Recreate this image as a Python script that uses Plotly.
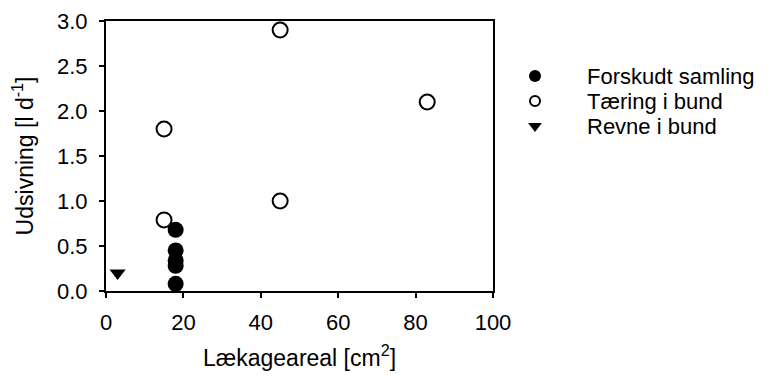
import plotly.graph_objects as go

# Leakage area [cm2] and seepage [l/d] per damage type
forskudt_x = [18, 18, 18, 18, 18]
forskudt_y = [0.68, 0.45, 0.34, 0.28, 0.08]

taering_x = [15, 15, 45, 45, 83]
taering_y = [1.8, 0.79, 2.9, 1.0, 2.1]

revne_x = [3]
revne_y = [0.2]

names = ["Forskudt samling", "Tæring i bund", "Revne i bund"]

x_ticks = [0, 20, 40, 60, 80, 100]
y_ticks = [0, 0.5, 1.0, 1.5, 2.0, 2.5, 3.0]
y_ticktext = ["0.0", "0.5", "1.0", "1.5", "2.0", "2.5", "3.0"]

FONT = "Liberation Sans, Arial, sans-serif"
FS = 22
FS_TITLE = 23

# Figure geometry (pixels)
W, H = 780, 379
PLOT_X0, PLOT_X1 = 106, 493
PLOT_Y0, PLOT_Y1 = 21, 291  # top, bottom

# Legend placement (pixels from top-left)
LEG_SYMBOL_X = 535
LEG_TEXT_X = 585
LEG_ROW0_Y = 76
LEG_ROW_STEP = 25

fig = go.Figure()

styles = [
    dict(symbol="circle", size=16, color="black", line=dict(color="black", width=0)),
    dict(symbol="circle-open", size=15, color="black", line=dict(color="black", width=2)),
    dict(symbol="triangle-down", size=14, color="black", line=dict(color="black", width=0)),
]
legend_styles = [
    dict(symbol="circle", size=12, color="black", line=dict(color="black", width=0)),
    dict(symbol="circle-open", size=10, color="black", line=dict(color="black", width=2)),
    dict(symbol="triangle-down", size=12, color="black", line=dict(color="black", width=0)),
]
series = [(forskudt_x, forskudt_y), (taering_x, taering_y), (revne_x, revne_y)]

for (xs, ys), name, st in zip(series, names, styles):
    fig.add_trace(go.Scatter(x=xs, y=ys, mode="markers", name=name,
                             showlegend=False, marker=st))

# Legend beside the plot, laid out on a full-figure pixel axis pair
for i, (name, st) in enumerate(zip(names, legend_styles)):
    row_y = LEG_ROW0_Y + i * LEG_ROW_STEP
    fig.add_trace(go.Scatter(x=[LEG_SYMBOL_X], y=[row_y], mode="markers",
                             xaxis="x2", yaxis="y2", showlegend=False,
                             hoverinfo="skip", marker=st))
    fig.add_annotation(
        x=LEG_TEXT_X, y=row_y, xref="x2", yref="y2",
        text=name, showarrow=False, xanchor="left", yanchor="middle",
        font=dict(family=FONT, size=FS, color="black"),
    )

# Major ticks are invisible and long (they only push the labels away from
# the axis); the short visible tick marks are drawn as minor ticks.
def axis_style(tickvals, label_gap):
    return dict(
        showgrid=False, zeroline=False, showline=True, linecolor="black",
        linewidth=2, mirror=True, ticks="outside", ticklen=label_gap,
        tickwidth=2, tickcolor="rgba(0,0,0,0)",
        tickfont=dict(family=FONT, size=FS, color="black"),
        tickmode="array", tickvals=tickvals,
        minor=dict(tickmode="array", tickvals=tickvals, ticks="outside",
                   ticklen=5, tickwidth=2, tickcolor="black", showgrid=False),
    )


fig.update_layout(
    width=W, height=H,
    margin=dict(l=0, r=0, t=0, b=0, autoexpand=False),
    paper_bgcolor="white", plot_bgcolor="rgba(0,0,0,0)",
    font=dict(family=FONT, size=FS, color="black"),
    showlegend=False,
    xaxis=dict(
        domain=[PLOT_X0 / W, PLOT_X1 / W], range=[0, 100],
        title=dict(text="Lækageareal [cm<sup>2</sup>]",
                   font=dict(family=FONT, size=FS_TITLE, color="black"), standoff=15),
        **axis_style(x_ticks, 11),
    ),
    yaxis=dict(
        domain=[1 - PLOT_Y1 / H, 1 - PLOT_Y0 / H], range=[0, 3.0],
        ticktext=y_ticktext,
        title=dict(text="Udsivning [l d<sup>-1</sup>]",
                   font=dict(family=FONT, size=FS_TITLE, color="black"), standoff=17),
        **axis_style(y_ticks, 12),
    ),
    xaxis2=dict(domain=[0, 1], range=[0, W], visible=False, fixedrange=True,
                anchor="y2"),
    yaxis2=dict(domain=[0, 1], range=[H, 0], visible=False, fixedrange=True,
                anchor="x2"),
)

fig.write_html("out.html")
